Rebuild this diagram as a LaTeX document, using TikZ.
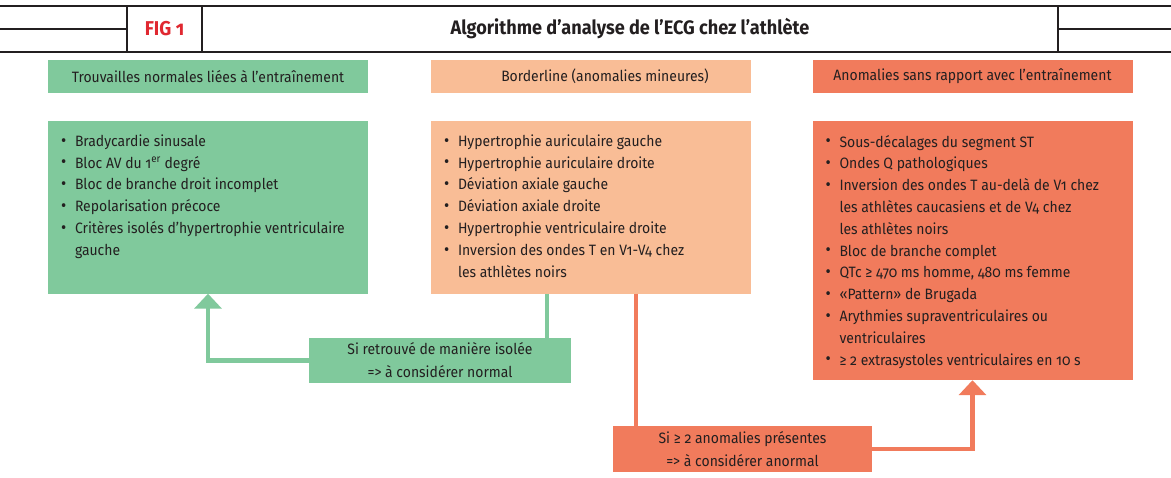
\documentclass[tikz,border=0pt]{standalone}
\usepackage{fontspec}
\setmainfont[FakeStretch=0.93,Numbers=OldStyle]{Fira Sans}
\usetikzlibrary{positioning,arrows.meta}

\definecolor{normGreen}{RGB}{128,201,156}
\definecolor{bordPeach}{RGB}{249,189,150}
\definecolor{anomRed}{RGB}{241,123,92}
\definecolor{figRed}{RGB}{224,40,48}
\definecolor{inkGray}{RGB}{35,31,32}

\newcommand{\bul}{\makebox[14pt][l]{\raisebox{0.2pt}{\scalebox{1.15}{•}}}}
\newcommand{\cnt}{\hspace*{14pt}}

\tikzset{
  hdrbox/.style={minimum width=320pt, minimum height=33pt, inner sep=0pt,
    font=\fontsize{15}{17}\selectfont, text=inkGray},
  listbox/.style={minimum width=320pt, inner sep=0pt},
  listtxt/.style={anchor=north west, inner sep=0pt, align=left,
    font=\fontsize{15}{21.8}\selectfont, text=inkGray},
  notebox/.style={inner sep=0pt, align=center, text=inkGray,
    font=\fontsize{15}{23}\selectfont},
  link/.style={line width=4.5pt},
  tip/.style={-{Triangle[width=27pt,length=15pt]}}
}

\begin{document}
\begin{tikzpicture}[x=1pt,y=-1pt]
  \useasboundingbox[fill=white] (0,0) rectangle (1171,477);

  % header band
  \node[draw=inkGray, line width=1.4pt, minimum width=75pt, minimum height=46pt, inner sep=0pt,
    text=figRed, font=\fontsize{20}{22}\bfseries] (figCell) at (164.5,29) {FIG 1};
  \node[draw=inkGray, line width=1.4pt, minimum width=856pt, minimum height=46pt, inner sep=0pt,
    text=inkGray, font=\fontsize{19.5}{22}\bfseries] (titleCell) at (630,29) {Algorithme d’analyse de l’ECG chez l’athlète};
  \coordinate (ruleL) at (0,29);
  \coordinate (ruleR) at (1171,29);
  \draw[inkGray, line width=1.4pt] (ruleL) -- (figCell.west);
  \draw[inkGray, line width=1.4pt] (titleCell.east) -- (ruleR);
  \draw[inkGray, line width=1.4pt] (0,6) -- (1171,6);
  \draw[inkGray, line width=1.4pt] (0,52) -- (1171,52);

  % column headers
  \node[hdrbox, fill=normGreen] (normHdr) at (208,76.5) {Trouvailles normales liées à l’entraînement};
  \node[hdrbox, fill=bordPeach] (bordHdr) at (591,76.5) {\hspace*{28pt}Borderline (anomalies mineures)};
  \node[hdrbox, fill=anomRed] (anomHdr) at (972.5,76.5) {Anomalies sans rapport avec l’entraînement};

  % boxes
  \node[listbox, fill=normGreen, minimum height=173pt] (normBox) at (208,207) {};
  \node[listbox, fill=bordPeach, minimum height=173pt] (bordBox) at (591,207) {};
  \node[listbox, fill=anomRed, minimum height=259pt] (anomBox) at (972.5,250.5) {};

  \node[listtxt] (normList) at ([shift={(13,14)}]normBox.north west) {%
    \bul Bradycardie sinusale\\
    \bul Bloc AV du 1\textsuperscript{er} degré\\
    \bul Bloc de branche droit incomplet\\
    \bul Repolarisation précoce\\
    \bul Critères isolés d’hypertrophie ventriculaire\\
    \cnt gauche};
  \node[listtxt] (bordList) at ([shift={(13,14)}]bordBox.north west) {%
    \bul Hypertrophie auriculaire gauche\\
    \bul Hypertrophie auriculaire droite\\
    \bul Déviation axiale gauche\\
    \bul Déviation axiale droite\\
    \bul Hypertrophie ventriculaire droite\\
    \bul Inversion des ondes T en V1-V4 chez\\
    \cnt les athlètes noirs};
  \node[listtxt] (anomList) at ([shift={(13,14)}]anomBox.north west) {%
    \bul Sous-décalages du segment ST\\
    \bul Ondes Q pathologiques\\
    \bul Inversion des ondes T au-delà de V1 chez\\
    \cnt les athlètes caucasiens et de V4 chez\\
    \cnt les athlètes noirs\\
    \bul Bloc de branche complet\\
    \bul QTc ≥ 470 ms homme, 480 ms femme\\
    \bul «Pattern» de Brugada\\
    \bul Arythmies supraventriculaires ou\\
    \cnt ventriculaires\\
    \bul ≥ 2 extrasystoles ventriculaires en 10 s};

  % decision notes
  \node[notebox, fill=normGreen, minimum width=262pt, minimum height=45pt] (normNote) at (440,360.5)
    {Si retrouvé de manière isolée\\=> à considérer normal};
  \node[notebox, fill=anomRed, minimum width=259pt, minimum height=46pt] (anomNote) at (742.5,449)
    {Si ≥ 2 anomalies présentes\\=> à considérer anormal};

  % connectors
  \coordinate (toNorm) at ([xshift=-44pt]bordBox.south);
  \coordinate (toAnom) at ([xshift=45pt]bordBox.south);
  \draw[link, normGreen] (toNorm) -- (toNorm |- normNote.north);
  \draw[link, normGreen, tip] (normNote.west) -| (normBox.south);
  \draw[link, anomRed] (toAnom) -- (toAnom |- anomNote.north);
  \draw[link, anomRed, tip] (anomNote.east) -| (anomBox.south);
\end{tikzpicture}
\end{document}
